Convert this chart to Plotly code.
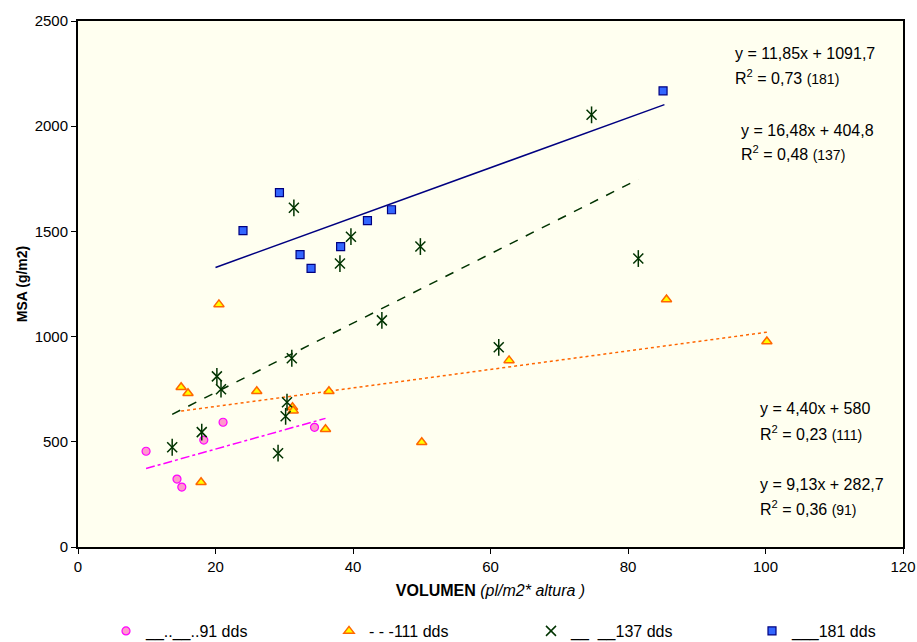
import plotly.graph_objects as go

# ---- data ----
x91 = [9.9, 14.4, 15.1, 18.3, 21.1, 34.4]
y91 = [455, 323, 285, 508, 593, 569]

x111 = [15.0, 16.0, 17.9, 20.5, 26.0, 31.2, 31.3, 36.0, 36.5, 50.0, 62.7, 85.6, 100.2]
y111 = [759, 731, 308, 1153, 740, 664, 648, 560, 740, 498, 887, 1176, 977]

x137 = [13.7, 18.0, 20.2, 20.8, 29.1, 30.2, 30.4, 31.1, 31.4, 38.1, 39.7, 44.2, 49.8, 61.2, 74.7, 81.5]
y137 = [474, 546, 811, 750, 446, 621, 688, 897, 1612, 1347, 1475, 1077, 1428, 949, 2054, 1371]

x181 = [24.0, 29.3, 32.3, 33.9, 38.2, 42.1, 45.6, 85.1]
y181 = [1504, 1684, 1390, 1324, 1428, 1551, 1603, 2168]

# trendlines: slope, intercept, x-range
trend91 = (9.13, 282.7, [9.9, 36.0])
trend111 = (4.40, 580.0, [15.0, 100.2])
trend137 = (16.48, 404.8, [13.7, 81.5])
trend181 = (11.85, 1091.7, [20.0, 85.3])

names = ["__..__..91 dds", "- - -111 dds", "__  __137 dds", "___181 dds"]
eq_texts = [
    ("y = 11,85x + 1091,7", "0,73", "(181)"),
    ("y = 16,48x + 404,8", "0,48", "(137)"),
    ("y = 4,40x + 580", "0,23", "(111)"),
    ("y = 9,13x + 282,7", "0,36", "(91)"),
]

FONT = "Liberation Sans, Arial, sans-serif"

FIG_W, FIG_H = 917, 642
# plot-area geometry in pixels
L, R, T, B = 78, 903, 21, 547
W, H = R - L, B - T

fig = go.Figure()

def trend(t):
    m, b, xr = t
    return xr, [m * v + b for v in xr]

for t, color, dash in [
    (trend91, "#FF00FF", "dashdot"),
    (trend111, "#FF6600", "dot"),
    (trend137, "#003300", "dash"),
    (trend181, "#000080", "solid"),
]:
    tx, ty = trend(t)
    fig.add_trace(go.Scatter(x=tx, y=ty, mode="lines", showlegend=False,
                             hoverinfo="skip",
                             line=dict(color=color, width=1.5, dash=dash)))

fig.add_trace(go.Scatter(x=x91, y=y91, mode="markers", name=names[0], legend="legend",
                         marker=dict(symbol="circle", size=8, color="#FF99CC",
                                     line=dict(color="#FF00FF", width=1.2))))
fig.add_trace(go.Scatter(x=x111, y=y111, mode="markers", name=names[1], legend="legend2",
                         marker=dict(symbol="triangle-up", size=9, color="#FFFF00",
                                     line=dict(color="#FF6600", width=1.5))))
fig.add_trace(go.Scatter(x=x137, y=y137, mode="markers", name=names[2], legend="legend3",
                         legendgroup="g137",
                         marker=dict(symbol="x-thin-open", size=10, color="#003300",
                                     line=dict(color="#003300", width=1.5))))
fig.add_trace(go.Scatter(x=x137, y=y137, mode="markers", showlegend=False,
                         legendgroup="g137", hoverinfo="skip",
                         marker=dict(symbol="line-ns-open", size=12, color="#003300",
                                     line=dict(color="#003300", width=1.5))))
fig.add_trace(go.Scatter(x=x181, y=y181, mode="markers", name=names[3], legend="legend4",
                         marker=dict(symbol="square", size=8, color="#3366FF",
                                     line=dict(color="#000080", width=1.2))))

# equation annotations
ann_pos = [(95.2, 53, 77), (96.2, 130, 153), (98.9, 408, 433), (98.9, 484, 508)]
def py_to_y(py):
    return (B - py) / H * 2500

for (eq, r2, tag), (ax, p1, p2) in zip(eq_texts, ann_pos):
    fig.add_annotation(x=ax, y=py_to_y(p1), xref="x", yref="y", text=eq,
                       showarrow=False, xanchor="left", yanchor="middle",
                       font=dict(family=FONT, size=16, color="#000"))
    fig.add_annotation(x=ax, y=py_to_y(p2), xref="x", yref="y",
                       text=f"R<sup>2</sup> = {r2} <span style='font-size:14px'>{tag}</span>",
                       showarrow=False, xanchor="left", yanchor="middle",
                       font=dict(family=FONT, size=16, color="#000"))

def leg(marker_px):
    return dict(orientation="h", x=(marker_px - 25 - L) / W, y=(B - 631) / H,
                xanchor="left", yanchor="middle", font=dict(family=FONT, size=16),
                itemclick=False, itemdoubleclick=False, bgcolor="rgba(0,0,0,0)",
                borderwidth=0)

fig.update_layout(
    width=FIG_W, height=FIG_H,
    margin=dict(l=L, r=FIG_W - R, t=T, b=FIG_H - B, autoexpand=False),
    paper_bgcolor="white",
    plot_bgcolor="#FFFFF0",
    font=dict(family=FONT, size=15, color="#000"),
    showlegend=True,
    legend=leg(131), legend2=leg(354), legend3=leg(556), legend4=leg(777),
)
fig.update_xaxes(range=[0, 120], dtick=20, tick0=0, showgrid=False, zeroline=False,
                 automargin=False,
                 showline=True, mirror=True, linecolor="#000", linewidth=2,
                 ticks="outside", ticklen=5, tickcolor="#000",
                 tickfont=dict(family=FONT, size=15),
                 title=dict(text="<b>VOLUMEN</b> <i>(pl/m2* altura )</i>",
                            font=dict(family=FONT, size=16), standoff=11))
fig.update_yaxes(range=[0, 2500], dtick=500, tick0=0, showgrid=False, zeroline=False,
                 automargin=False,
                 showline=True, mirror=True, linecolor="#000", linewidth=2,
                 ticks="outside", ticklen=5, tickcolor="#000", tickformat="d",
                 tickfont=dict(family=FONT, size=15),
                 title=dict(text="<b>MSA (g/m2)</b>", font=dict(family=FONT, size=14),
                            standoff=4))

fig.write_html(
    "out.html",
    config={"displayModeBar": False},
    post_script="document.body.style.margin='0';document.body.style.overflow='hidden';",
)
